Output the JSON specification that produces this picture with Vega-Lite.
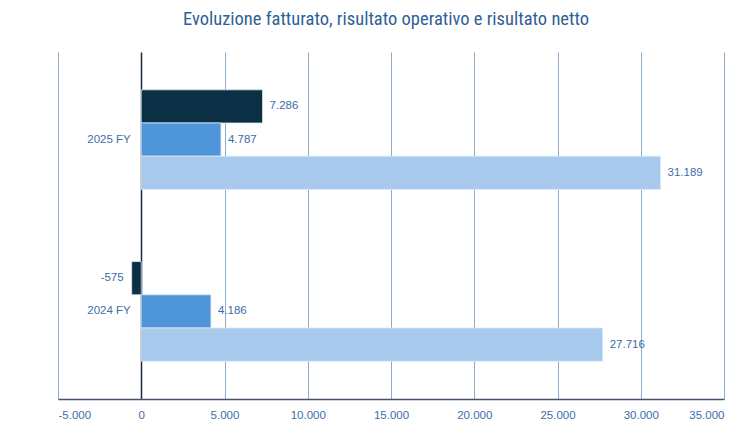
{
  "$schema": "https://vega.github.io/schema/vega-lite/v6.json",
  "description": "Evoluzione fatturato, risultato operativo e risultato netto",
  "autosize": "none",
  "width": 666,
  "height": 347,
  "padding": {"left": 58, "top": 52, "right": 29, "bottom": 28},
  "title": {
    "text": "Evoluzione fatturato, risultato operativo e risultato netto",
    "anchor": "middle",
    "font": "Liberation Sans Narrow, Roboto Condensed, Roboto",
    "fontSize": 18.5,
    "fontWeight": "normal",
    "color": "#2f5f96",
    "offset": 24,
    "dx": -5
  },
  "data": {
    "values": [
      {"anno": "2025 FY", "serie": "Risultato netto", "valore": 7286},
      {"anno": "2025 FY", "serie": "Risultato operativo", "valore": 4787},
      {"anno": "2025 FY", "serie": "Fatturato", "valore": 31189},
      {"anno": "2024 FY", "serie": "Risultato netto", "valore": -575},
      {"anno": "2024 FY", "serie": "Risultato operativo", "valore": 4186},
      {"anno": "2024 FY", "serie": "Fatturato", "valore": 27716}
    ]
  },
  "encoding": {
    "y": {
      "field": "anno",
      "type": "nominal",
      "sort": ["2025 FY", "2024 FY"],
      "scale": {"paddingInner": 0.42, "paddingOuter": 0.22},
      "axis": {
        "title": null,
        "offset": -83.25,
        "domain": false,
        "ticks": false,
        "grid": false,
        "labelPadding": 11,
        "labelFont": "Liberation Sans",
        "labelFontSize": 11.5,
        "labelColor": "#3c6ea7"
      }
    },
    "yOffset": {
      "field": "serie",
      "type": "nominal",
      "sort": ["Risultato netto", "Risultato operativo", "Fatturato"],
      "scale": {"paddingInner": 0, "paddingOuter": 0}
    },
    "x": {
      "field": "valore",
      "type": "quantitative",
      "scale": {"domain": [-5000, 35000], "nice": false, "zero": false},
      "axis": {
        "title": null,
        "values": [-5000, 0, 5000, 10000, 15000, 20000, 25000, 30000, 35000],
        "format": ",d",
        "grid": true,
        "gridColor": {"condition": {"test": "datum.value === 0", "value": "#1c2b3b"}, "value": "#8eabcd"},
        "gridWidth": {"condition": {"test": "datum.value === 0", "value": 1.5}, "value": 1},
        "domain": true,
        "domainColor": "#44546a",
        "domainWidth": 1.5,
        "ticks": false,
        "labelPadding": 10,
        "labelFont": "Liberation Sans",
        "labelFontSize": 11.5,
        "labelColor": "#3c6ea7"
      }
    }
  },
  "layer": [
    {
      "mark": {"type": "bar", "stroke": "#dfeaf6", "strokeWidth": 0.8},
      "encoding": {
        "color": {
          "field": "serie",
          "type": "nominal",
          "scale": {
            "domain": ["Risultato netto", "Risultato operativo", "Fatturato"],
            "range": ["#0b2f44", "#4e95d9", "#a6c9ec"]
          },
          "legend": null
        }
      }
    },
    {
      "mark": {
        "type": "text",
        "font": "Liberation Sans",
        "fontSize": 11.5,
        "color": "#3c6ea7",
        "baseline": "middle",
        "align": {"expr": "datum.valore < 0 ? 'right' : 'left'"},
        "dx": {"expr": "datum.valore < 0 ? -8 : 7"}
      },
      "encoding": {
        "text": {"field": "valore", "type": "quantitative", "format": ",d"}
      }
    }
  ],
  "config": {
    "locale": {
      "number": {
        "decimal": ",",
        "thousands": ".",
        "grouping": [3],
        "currency": ["€", ""],
        "minus": "-"
      }
    },
    "view": {"stroke": null}
  }
}
